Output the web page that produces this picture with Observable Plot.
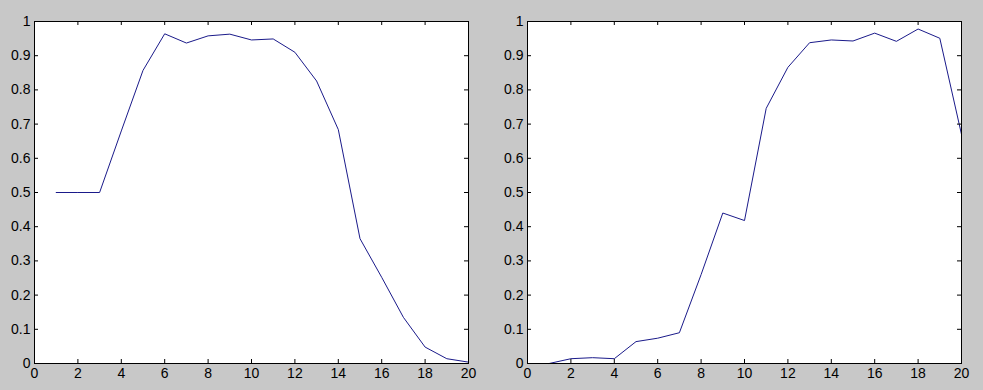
<!DOCTYPE html>
<html>
<head>
<meta charset="utf-8">
<script src="https://cdn.jsdelivr.net/npm/d3@7"></script>
<script src="https://cdn.jsdelivr.net/npm/@observablehq/plot@0.6"></script>
<style>
  html, body { margin: 0; padding: 0; background: #c8c8c8; }
  #wrap { width: 983px; height: 390px; display: flex; overflow: hidden; background: #c8c8c8; }
  #wrap svg { display: block; }
</style>
</head>
<body>
<div id="wrap"></div>
<script>
const xs = [1, 2, 3, 4, 5, 6, 7, 8, 9, 10, 11, 12, 13, 14, 15, 16, 17, 18, 19, 20];
const leftValues = [0.5, 0.5, 0.5, 0.68, 0.857, 0.964, 0.937, 0.958, 0.963, 0.946, 0.949, 0.910, 0.826, 0.684, 0.365, 0.252, 0.135, 0.048, 0.014, 0.004];
const rightValues = [0.0, 0.014, 0.017, 0.014, 0.064, 0.074, 0.09, 0.26, 0.44, 0.418, 0.746, 0.866, 0.938, 0.946, 0.943, 0.966, 0.942, 0.978, 0.951, 0.67];
const xTicks = [0, 2, 4, 6, 8, 10, 12, 14, 16, 18, 20];
const yTicks = [0, 0.1, 0.2, 0.3, 0.4, 0.5, 0.6, 0.7, 0.8, 0.9, 1];

const lineColor = "#1a1a8a";
const H = 390, mTop = 21, mBottom = 27, plotW = 434, plotH = H - mTop - mBottom;
const tickLen = 4;

function panel(values, mLeft, mRight) {
  const data = xs.map((x, i) => ({x, y: values[i]}));
  return Plot.plot({
    width: mLeft + plotW + mRight,
    height: H,
    marginLeft: mLeft,
    marginRight: mRight,
    marginTop: mTop,
    marginBottom: mBottom,
    style: {background: "transparent", fontFamily: "'Liberation Sans', Arial, sans-serif", fontSize: "14px", color: "black"},
    x: {domain: [0, 20]},
    y: {domain: [0, 1]},
    marks: [
      Plot.frame({fill: "white", stroke: "none"}),
      Plot.line(data, {x: "x", y: "y", stroke: lineColor, strokeWidth: 1}),
      // inward ticks on all four sides
      Plot.tickX(xTicks, {x: d => d, stroke: "black", insetTop: plotH - tickLen}),
      Plot.tickX(xTicks, {x: d => d, stroke: "black", insetBottom: plotH - tickLen}),
      Plot.tickY(yTicks, {y: d => d, stroke: "black", insetRight: plotW - tickLen}),
      Plot.tickY(yTicks, {y: d => d, stroke: "black", insetLeft: plotW - tickLen}),
      Plot.axisX(xTicks, {anchor: "bottom", tickSize: 0, tickPadding: 5, label: null, fontSize: 14}),
      Plot.axisY(yTicks, {anchor: "left", tickSize: 0, tickPadding: 4, label: null, fontSize: 14, tickFormat: d => String(d)}),
      Plot.frame({stroke: "black", strokeWidth: 1})
    ]
  });
}

const wrap = document.getElementById("wrap");
wrap.appendChild(panel(leftValues, 34, 23));
wrap.appendChild(panel(rightValues, 36, 22));
</script>
</body>
</html>
